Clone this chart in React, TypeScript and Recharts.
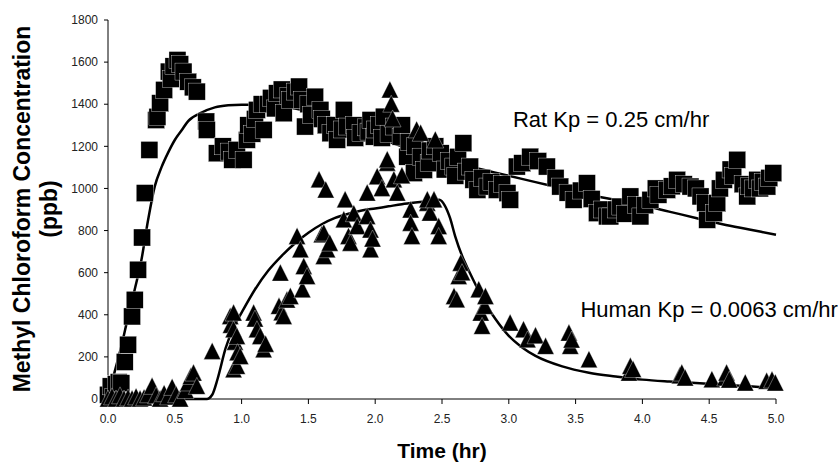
import {
  ComposedChart,
  Line,
  ReferenceDot,
  Scatter,
  XAxis,
  YAxis,
} from "recharts"

const FONT = "Arial, 'Liberation Sans', Helvetica, sans-serif"

const X_TICKS = [0, 0.5, 1, 1.5, 2, 2.5, 3, 3.5, 4, 4.5, 5]
const Y_TICKS = [0, 200, 400, 600, 800, 1000, 1200, 1400, 1600, 1800]

// [time (hr), concentration (ppb)]
const RAT_OBS: [number, number][] = [
  [0.0, 20], [0.02, 60], [0.04, 10], [0.06, 70], [0.08, 80], [0.1, 75],
  [0.125, 176], [0.15, 258], [0.18, 392], [0.2, 471], [0.225, 614], [0.255, 767],
  [0.275, 978], [0.31, 1183], [0.36, 1325], [0.37, 1340], [0.39, 1405], [0.42, 1468],
  [0.455, 1555], [0.47, 1520], [0.49, 1580], [0.52, 1610], [0.54, 1590], [0.565, 1555],
  [0.6, 1507], [0.635, 1480], [0.665, 1460], [0.735, 1318], [0.74, 1278], [0.815, 1167],
  [0.86, 1200], [0.905, 1175], [0.93, 1136], [0.965, 1183], [1.015, 1136], [1.04, 1231],
  [1.05, 1300], [1.08, 1260], [1.1, 1330], [1.115, 1373], [1.15, 1400], [1.165, 1278],
  [1.2, 1400], [1.22, 1430], [1.25, 1380], [1.265, 1452], [1.3, 1470], [1.315, 1357],
  [1.35, 1440], [1.36, 1420], [1.4, 1460], [1.43, 1484], [1.45, 1420], [1.475, 1294],
  [1.5, 1400], [1.52, 1350], [1.55, 1436], [1.59, 1373], [1.6, 1330], [1.63, 1300],
  [1.665, 1262], [1.7, 1300], [1.715, 1231], [1.75, 1280], [1.765, 1373], [1.79, 1294],
  [1.84, 1300], [1.85, 1240], [1.89, 1262], [1.93, 1290], [1.95, 1270], [1.965, 1325],
  [1.99, 1246], [2.0, 1280], [2.03, 1300], [2.05, 1240], [2.065, 1341], [2.1, 1260],
  [2.14, 1294], [2.19, 1246], [2.2, 1300], [2.24, 1151], [2.25, 1220], [2.29, 1073],
  [2.3, 1200], [2.34, 1151], [2.365, 1088], [2.4, 1120], [2.41, 1180], [2.45, 1200],
  [2.49, 1167], [2.52, 1090], [2.55, 1130], [2.585, 1104], [2.6, 1060], [2.62, 1150],
  [2.66, 1215], [2.68, 1080], [2.71, 1104], [2.735, 1041], [2.765, 993], [2.8, 1050],
  [2.84, 1009], [2.87, 1030], [2.91, 993], [2.95, 1020], [2.99, 978], [3.01, 946],
  [3.06, 1104], [3.1, 1120], [3.16, 1151], [3.22, 1130], [3.285, 1104], [3.35, 1050],
  [3.385, 1009], [3.44, 980], [3.485, 946], [3.54, 990], [3.585, 1025], [3.62, 950],
  [3.66, 883], [3.7, 900], [3.735, 867], [3.76, 867], [3.8, 900], [3.835, 914],
  [3.87, 880], [3.91, 962], [3.95, 920], [3.985, 867], [4.02, 920], [4.06, 946],
  [4.1, 1000], [4.12, 970], [4.185, 993], [4.22, 1010], [4.26, 1041], [4.31, 1020],
  [4.36, 1009], [4.4, 1000], [4.435, 962], [4.47, 930], [4.485, 851], [4.535, 883],
  [4.56, 930], [4.58, 1000], [4.61, 1041], [4.66, 1090], [4.68, 1060], [4.71, 1136],
  [4.75, 1020], [4.785, 962], [4.8, 1010], [4.83, 1000], [4.86, 1041], [4.88, 1000],
  [4.9, 1030], [4.935, 1009], [4.95, 1050], [4.98, 1073],
]

const HUMAN_OBS: [number, number][] = [
  [0.0, 0], [0.03, 10], [0.06, 0], [0.09, 15], [0.12, 0], [0.15, 5], [0.18, 0],
  [0.21, 10], [0.24, 0], [0.27, 5], [0.3, 20], [0.33, 60], [0.36, 15], [0.39, 0],
  [0.42, 25], [0.45, 10], [0.48, 55], [0.51, 20], [0.54, 0], [0.58, 40], [0.6, 76],
  [0.62, 107], [0.64, 123], [0.665, 60], [0.78, 226],
  [0.915, 392], [0.92, 350], [0.94, 408], [0.94, 329], [0.94, 139], [0.95, 270],
  [0.965, 297], [0.965, 155], [0.97, 220], [0.99, 202], [1.09, 408], [1.1, 380],
  [1.115, 329], [1.14, 297], [1.165, 234], [1.18, 260], [1.28, 440], [1.29, 598],
  [1.3, 410], [1.315, 392], [1.34, 470], [1.365, 487], [1.415, 772], [1.44, 709],
  [1.455, 519], [1.465, 629], [1.49, 582], [1.58, 1041], [1.6, 780], [1.615, 788],
  [1.615, 677], [1.63, 993], [1.64, 709], [1.66, 740], [1.765, 851], [1.775, 946],
  [1.8, 772], [1.815, 740], [1.84, 880], [1.865, 819], [1.94, 978], [1.94, 867],
  [1.965, 803], [1.965, 709], [1.98, 760], [2.015, 1056], [2.05, 1000], [2.09, 1120],
  [2.09, 1136], [2.11, 1468], [2.12, 1400], [2.13, 1330], [2.14, 1041], [2.165, 978],
  [2.2, 1060], [2.265, 898], [2.265, 835], [2.275, 772], [2.31, 1278], [2.34, 1262],
  [2.39, 930], [2.39, 946], [2.41, 883], [2.44, 946], [2.45, 1230], [2.475, 819],
  [2.475, 772],
  [2.59, 487], [2.61, 471], [2.625, 582], [2.64, 645], [2.65, 600], [2.775, 519],
  [2.79, 408], [2.8, 345], [2.82, 440], [2.825, 487], [3.01, 361], [3.11, 329],
  [3.14, 281], [3.2, 300], [3.275, 250], [3.45, 313], [3.46, 250], [3.47, 280],
  [3.6, 187], [3.9, 123], [3.91, 155], [3.93, 140], [4.28, 110], [4.295, 123],
  [4.32, 100], [4.52, 92], [4.62, 100], [4.63, 123], [4.65, 90], [4.77, 76],
  [4.93, 84], [4.97, 90], [4.995, 76],
]

const RAT_MODEL: [number, number][] = [
  [0, 0], [0.05, 130], [0.1, 250], [0.15, 390], [0.2, 520], [0.25, 660], [0.3, 850],
  [0.35, 1010], [0.4, 1100], [0.45, 1170], [0.5, 1230], [0.55, 1275], [0.6, 1320],
  [0.7, 1360], [0.8, 1385], [0.9, 1395], [1.0, 1398], [1.2, 1395], [1.4, 1380],
  [1.6, 1350], [1.8, 1300], [2.0, 1245], [2.2, 1200], [2.4, 1160], [2.6, 1125],
  [2.8, 1090], [3.0, 1060], [3.2, 1030], [3.4, 1000], [3.6, 970], [3.8, 945],
  [4.0, 920], [4.2, 890], [4.4, 860], [4.6, 830], [4.8, 805], [5.0, 780],
]

const HUMAN_MODEL: [number, number][] = [
  [0, 0], [0.3, 0], [0.6, 0], [0.74, 0], [0.78, 20], [0.82, 95], [0.88, 240],
  [0.94, 340], [1.0, 410], [1.1, 520], [1.2, 610], [1.3, 680], [1.4, 740],
  [1.5, 790], [1.6, 830], [1.7, 860], [1.8, 880], [1.9, 895], [2.0, 905],
  [2.1, 915], [2.2, 925], [2.3, 933], [2.4, 940], [2.48, 946], [2.52, 920],
  [2.56, 860], [2.6, 770], [2.65, 680], [2.7, 610], [2.75, 545], [2.8, 480],
  [2.9, 380], [3.0, 300], [3.1, 245], [3.2, 205], [3.4, 155], [3.6, 125],
  [3.8, 107], [4.0, 92], [4.2, 83], [4.4, 76], [4.6, 68], [4.8, 60], [5.0, 52],
]

const toPts = (arr: [number, number][]) => arr.map(([t, c]) => ({ t, c }))

function Square(props: any) {
  const { cx, cy } = props
  if (cx == null || cy == null) return null
  return (
    <rect x={cx - 8.5} y={cy - 8.5} width={17} height={17} fill="#000" stroke="#fff" strokeWidth={0.35} />
  )
}

function Triangle(props: any) {
  const { cx, cy } = props
  if (cx == null || cy == null) return null
  return (
    <path
      d={`M${cx},${cy - 9}L${cx + 8.5},${cy + 8}L${cx - 8.5},${cy + 8}Z`}
      fill="#000"
      stroke="#fff"
      strokeWidth={0.35}
    />
  )
}

function Note(props: any) {
  const { viewBox, text } = props
  if (!viewBox) return null
  return (
    <text x={viewBox.x} y={viewBox.y} fontSize={22} fontFamily={FONT} fill="#000">
      {text}
    </text>
  )
}

const tickStyle = { fontSize: 12, fill: "#222", fontFamily: FONT }

export default function App() {
  return (
    <div style={{ position: "absolute", left: 0, top: 0, width: 838, height: 462, background: "#fff" }}>
      <ComposedChart
        width={838}
        height={462}
        margin={{ top: 20, right: 62, bottom: 0, left: 0 }}
      >
        <XAxis
          dataKey="t"
          type="number"
          domain={[0, 5]}
          ticks={X_TICKS}
          tickFormatter={(v: number) => v.toFixed(1)}
          tick={tickStyle}
          tickSize={5}
          tickMargin={10}
          stroke="#000"
          height={63}
          label={{
            value: "Time (hr)",
            position: "insideBottom",
            offset: 4,
            style: { fontSize: 21, fontWeight: 700, fill: "#000", fontFamily: FONT },
          }}
        />
        <YAxis
          type="number"
          domain={[0, 1800]}
          ticks={Y_TICKS}
          tick={tickStyle}
          tickSize={4}
          tickMargin={6}
          stroke="#000"
          width={108}
        />
        <Line
          data={toPts(RAT_MODEL)}
          dataKey="c"
          type="monotone"
          stroke="#000"
          strokeWidth={2.5}
          dot={false}
          isAnimationActive={false}
        />
        <Line
          data={toPts(HUMAN_MODEL)}
          dataKey="c"
          type="monotone"
          stroke="#000"
          strokeWidth={2.5}
          dot={false}
          isAnimationActive={false}
        />
        <Scatter data={toPts(RAT_OBS)} dataKey="c" shape={Square} isAnimationActive={false} />
        <Scatter data={toPts(HUMAN_OBS)} dataKey="c" shape={Triangle} isAnimationActive={false} />
        <ReferenceDot
          x={3.035}
          y={1288}
          r={0.5}
          fill="none"
          stroke="none"
          label={<Note text="Rat Kp = 0.25 cm/hr" />}
        />
        <ReferenceDot
          x={3.54}
          y={386}
          r={0.5}
          fill="none"
          stroke="none"
          label={<Note text="Human Kp = 0.0063 cm/hr" />}
        />
      </ComposedChart>
      <svg
        width={838}
        height={462}
        style={{ position: "absolute", left: 0, top: 0, pointerEvents: "none" }}
      >
        <text
          transform="translate(30,209) rotate(-90)"
          textAnchor="middle"
          fontSize={23}
          fontWeight={700}
          fontFamily={FONT}
          fill="#000"
        >
          Methyl Chloroform Concentration
        </text>
        <text
          transform="translate(57,209) rotate(-90)"
          textAnchor="middle"
          fontSize={23}
          fontWeight={700}
          fontFamily={FONT}
          fill="#000"
        >
          (ppb)
        </text>
      </svg>
    </div>
  )
}
